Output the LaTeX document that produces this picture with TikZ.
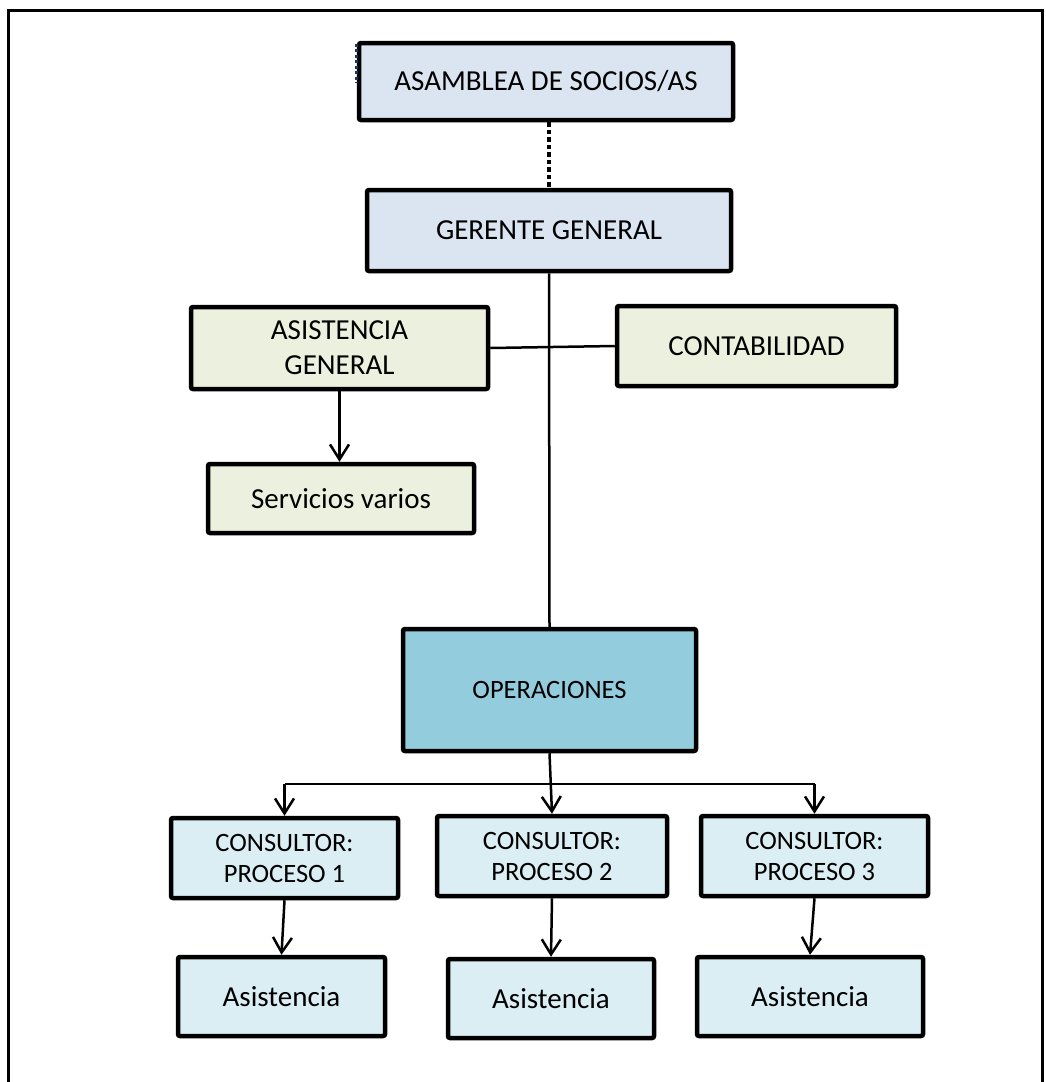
\documentclass[tikz,border=0pt]{standalone}
\usepackage{fontspec}
\setmainfont{Carlito}
\usetikzlibrary{arrows.meta}
\definecolor{jefeazul}{HTML}{DBE5F1}
\definecolor{apoyoverde}{HTML}{EBF1DE}
\definecolor{operaqua}{HTML}{93CDDD}
\definecolor{procaqua}{HTML}{DBEEF4}
\definecolor{marcaazul}{HTML}{17375E}
\tikzset{
  orgbox/.style    = {shape=rectangle, rounded corners=2pt,
                      draw, line width=4.5pt, align=center, inner sep=0pt,
                      font=\fontsize{29}{35}\selectfont},
  directivo/.style = {orgbox, fill=jefeazul},
  apoyo/.style     = {orgbox, fill=apoyoverde},
  operativo/.style = {orgbox, fill=operaqua, font=\fontsize{26.5}{31}\selectfont},
  consultor/.style = {orgbox, fill=procaqua, font=\fontsize{26.5}{31}\selectfont},
  asistente/.style = {orgbox, fill=procaqua},
  enlace/.style    = {draw, line width=2.5pt},
  flecha/.style    = {enlace, -{Straight Barb[length=15pt,width=19pt,line width=2.5pt]}},
  punteado/.style  = {draw, line width=4.5pt, dash pattern=on 4.5pt off 3pt},
  marco/.style     = {draw, line width=3pt}
}
\begin{document}
\begin{tikzpicture}[x=1pt,y=-1pt]
  \useasboundingbox (0,0) rectangle (1046,1082);
  % marco exterior
  \draw[marco] (8.5,1090) -- (8.5,10.5) -- (1042,10.5) -- (1042,1090);

  % nivel directivo
  \node[directivo, minimum width=374pt, minimum height=77pt] (asamblea) at (546,81.5) {ASAMBLEA DE SOCIOS/AS};
  \node[directivo, minimum width=364pt, minimum height=81pt] (gerente) at (549,230.5) {GERENTE GENERAL};
  \draw[draw=marcaazul, line width=3pt, dash pattern=on 3pt off 2.5pt]
    ([yshift=-3pt]asamblea.north west) -- ([yshift=-42pt]asamblea.north west);

  % apoyo
  \node[apoyo, minimum width=297pt, minimum height=82pt] (asistencia) at (339.5,348) {ASISTENCIA\\GENERAL};
  \node[apoyo, minimum width=279pt, minimum height=80pt] (contabilidad) at (756.5,346) {CONTABILIDAD};
  \node[apoyo, minimum width=266pt, minimum height=69pt] (servicios) at (341,498.5) {Servicios varios};

  % operaciones y procesos
  \node[operativo, minimum width=293pt, minimum height=122pt] (operaciones) at (549.5,690) {OPERACIONES};
  \node[consultor, minimum width=227pt, minimum height=80pt] (proc1) at (284.5,858) {CONSULTOR:\\PROCESO 1};
  \node[consultor, minimum width=230pt, minimum height=80pt] (proc2) at (552,856) {CONSULTOR:\\PROCESO 2};
  \node[consultor, minimum width=227pt, minimum height=80pt] (proc3) at (814.5,856) {CONSULTOR:\\PROCESO 3};
  \node[asistente, minimum width=207pt, minimum height=79pt] (asis1) at (281.5,996.5) {Asistencia};
  \node[asistente, minimum width=206pt, minimum height=79pt] (asis2) at (551,998.5) {Asistencia};
  \node[asistente, minimum width=226pt, minimum height=79pt] (asis3) at (810,996.5) {Asistencia};
  \coordinate (bus) at (549.5,784);

  % conectores
  \draw[punteado] (asamblea.south -| gerente.north) -- (gerente.north);
  \draw[enlace] (gerente.south) -- (operaciones.north);
  \draw[enlace] (asistencia.east) -- (contabilidad.west);
  \draw[flecha] (asistencia.south) -- (asistencia.south |- servicios.north);
  \draw[enlace] (proc1.north |- bus) -- (proc3.north |- bus);
  \draw[flecha] (operaciones.south) -- (proc2.north);
  \draw[flecha] (proc1.north |- bus) -- (proc1.north);
  \draw[flecha] (proc3.north |- bus) -- (proc3.north);
  \draw[flecha] (proc1.south) -- (asis1.north);
  \draw[flecha] (proc2.south) -- (asis2.north);
  \draw[flecha] (proc3.south) -- (asis3.north);
\end{tikzpicture}
\end{document}
